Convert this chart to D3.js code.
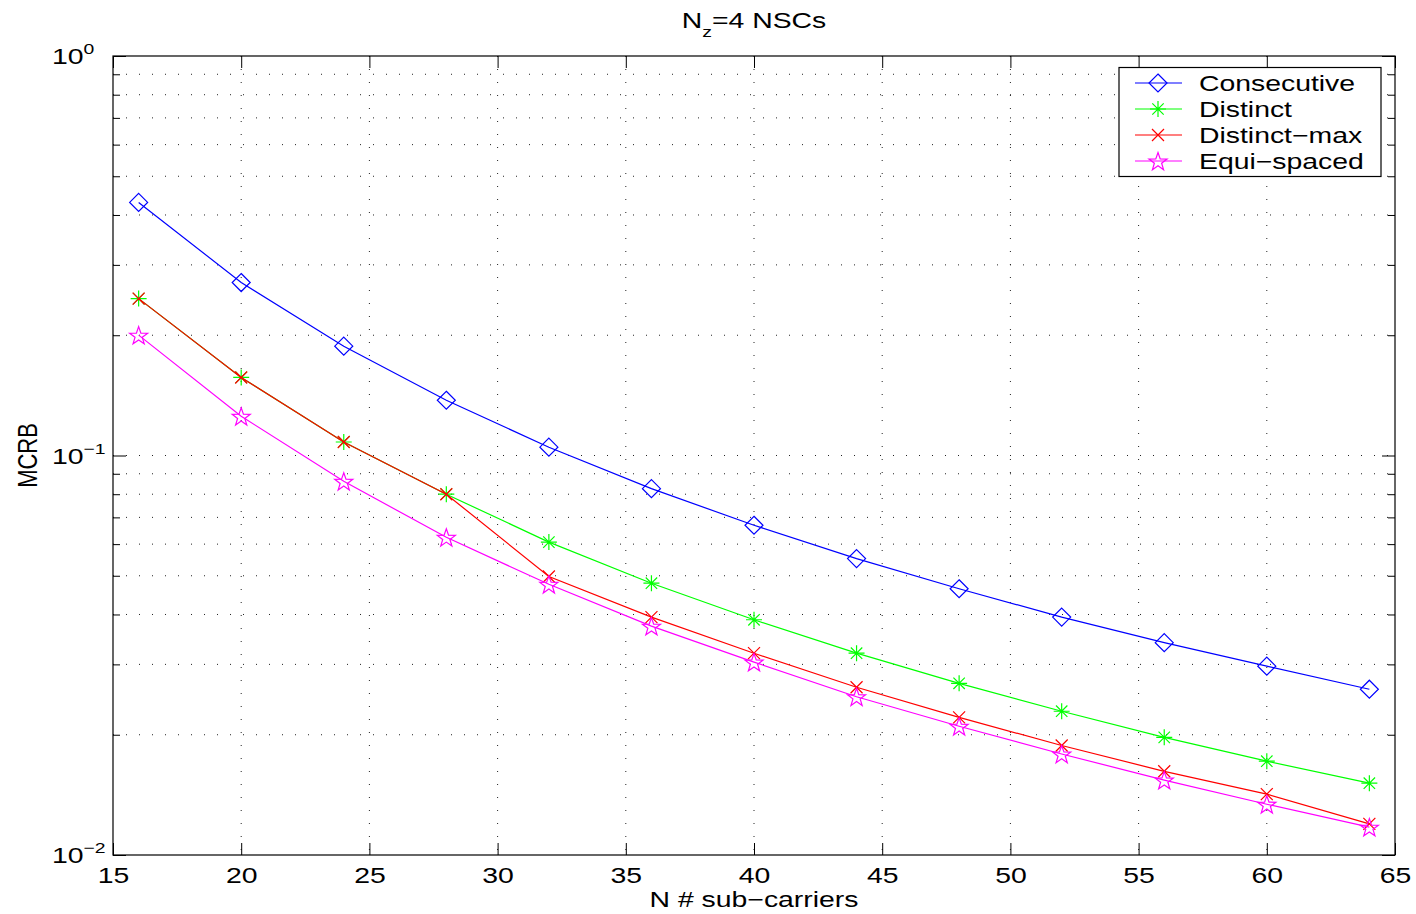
<!DOCTYPE html>
<html>
<head>
<meta charset="utf-8">
<script src="https://cdn.jsdelivr.net/npm/d3@7"></script>
<style>
  html, body { margin: 0; padding: 0; background: #fff; }
  svg { display: block; font-family: "Liberation Sans", Arial, Helvetica, sans-serif; }
</style>
</head>
<body>
<svg id="chart" width="1416" height="914"></svg>
<script>
// ---- data ----
const categories = [16, 20, 24, 28, 32, 36, 40, 44, 48, 52, 56, 60, 64];
const consecutive = [0.430, 0.271, 0.1878, 0.1375, 0.1049, 0.0826, 0.0669, 0.0552, 0.0464, 0.0394, 0.0340, 0.0297, 0.0260];
const distinct    = [0.247, 0.1568, 0.1081, 0.0800, 0.0607, 0.0479, 0.0388, 0.0320, 0.0269, 0.0229, 0.0197, 0.01717, 0.01513];
const distinctMax = [0.247, 0.1568, 0.1081, 0.0800, 0.0498, 0.0394, 0.0320, 0.0263, 0.0221, 0.0188, 0.0162, 0.0142, 0.01197];
const equiSpaced  = [0.2001, 0.1254, 0.0862, 0.0624, 0.0476, 0.0374, 0.0304, 0.0249, 0.0210, 0.0179, 0.0154, 0.0134, 0.01174];
const seriesNames = ["Consecutive", "Distinct", "Distinct\u2212max", "Equi\u2212spaced"];
const seriesColors = ["#0000ff", "#00ff00", "#ff0000", "#ff00ff"];
const seriesMarkers = ["diamond", "asterisk", "cross", "pentagram"];
const xTicks = [15, 20, 25, 30, 35, 40, 45, 50, 55, 60, 65];
const yMajorTicks = [0.01, 0.1, 1];
const yTickExponents = ["\u22122", "\u22121", "0"];
const titleMain = "N", titleSub = "z", titleRest = "=4 NSCs";
const xLabel = "N # sub\u2212carriers";
const yLabel = "MCRB";

// ---- layout ----
const L = 113, R = 1395, T = 56, B = 855;
const FONT = 22;
const SX = 1.29; // horizontal text stretch of the original
const svg = d3.select("#chart");

const x = d3.scaleLinear().domain([15, 65]).range([L, R]);
const y = d3.scaleLog().domain([0.01, 1]).range([B, T]);

const yMinor = [];
[0.01, 0.1].forEach(d => { for (let k = 2; k <= 9; k++) yMinor.push(d * k); });

function stretchedText(parent, tx, ty, anchor, extra) {
  const g = parent.append("g").attr("transform", `translate(${tx},${ty}) ${extra || ""} scale(${SX},1)`);
  return g.append("text").attr("x", 0).attr("y", 0).attr("text-anchor", anchor)
    .attr("font-size", FONT).attr("fill", "#000");
}

// ---- grid ----
const grid = svg.append("g").attr("stroke", "#222").attr("stroke-width", 1)
  .attr("stroke-dasharray", "1,12");
xTicks.filter(v => v > 15 && v < 65).forEach(v => {
  grid.append("line").attr("x1", x(v)).attr("x2", x(v)).attr("y1", T).attr("y2", B);
});
yMinor.concat([0.1]).forEach(v => {
  grid.append("line").attr("x1", L).attr("x2", R).attr("y1", y(v)).attr("y2", y(v));
});

// ---- axes ----
function styleAxis(g) {
  g.select(".domain").remove();
  g.selectAll("line").attr("stroke", "#000").attr("stroke-width", 1);
  g.selectAll("text").attr("fill", "#000").attr("font-size", FONT)
    .attr("font-family", "Liberation Sans, Arial, sans-serif");
}
svg.append("g").attr("transform", `translate(0,${B})`)
  .call(d3.axisBottom(x).tickValues(xTicks).tickSize(-12).tickPadding(12).tickFormat(d3.format("d")))
  .call(styleAxis)
  .call(g => g.selectAll("text").attr("transform", `scale(${SX},1)`));
svg.append("g").attr("transform", `translate(0,${T})`)
  .call(d3.axisTop(x).tickValues(xTicks).tickSize(-12).tickFormat(""))
  .call(styleAxis);
svg.append("g").attr("transform", `translate(${L},0)`)
  .call(d3.axisLeft(y).tickValues(yMajorTicks).tickSize(-13).tickFormat(""))
  .call(styleAxis);
svg.append("g").attr("transform", `translate(${L},0)`)
  .call(d3.axisLeft(y).tickValues(yMinor).tickSize(-7).tickFormat(""))
  .call(styleAxis);
svg.append("g").attr("transform", `translate(${R},0)`)
  .call(d3.axisRight(y).tickValues(yMajorTicks).tickSize(-13).tickFormat(""))
  .call(styleAxis);
svg.append("g").attr("transform", `translate(${R},0)`)
  .call(d3.axisRight(y).tickValues(yMinor).tickSize(-7).tickFormat(""))
  .call(styleAxis);

// y tick labels 10^n
yMajorTicks.forEach((v, i) => {
  const t = stretchedText(svg, 52, y(v) + 8, "start");
  t.append("tspan").text("10");
  t.append("tspan").attr("dy", -10).attr("font-size", 15).text(yTickExponents[i]);
});

// box
svg.append("rect").attr("x", L).attr("y", T).attr("width", R - L).attr("height", B - T)
  .attr("fill", "none").attr("stroke", "#000").attr("stroke-width", 1.2);

// ---- markers ----
function markerPath(type, cx, cy) {
  if (type === "diamond") {
    const r = 9;
    return `M${cx},${cy - r}L${cx + r},${cy}L${cx},${cy + r}L${cx - r},${cy}Z`;
  }
  if (type === "asterisk") {
    const r = 8, d = 5.7;
    return `M${cx - r},${cy}L${cx + r},${cy}M${cx},${cy - r}L${cx},${cy + r}` +
           `M${cx - d},${cy - d}L${cx + d},${cy + d}M${cx - d},${cy + d}L${cx + d},${cy - d}`;
  }
  if (type === "cross") {
    const d = 6;
    return `M${cx - d},${cy - d}L${cx + d},${cy + d}M${cx - d},${cy + d}L${cx + d},${cy - d}`;
  }
  if (type === "pentagram") {
    const ro = 9.5, ri = 3.8;
    let p = "";
    for (let k = 0; k < 10; k++) {
      const a = -Math.PI / 2 + k * Math.PI / 5;
      const rr = k % 2 === 0 ? ro : ri;
      p += (k === 0 ? "M" : "L") + (cx + rr * Math.cos(a)).toFixed(2) + "," + (cy + rr * Math.sin(a) + 1).toFixed(2);
    }
    return p + "Z";
  }
}

// ---- series ----
const allSeries = [consecutive, distinct, distinctMax, equiSpaced];
const line = d3.line().x((d, i) => x(categories[i])).y(d => y(d));
allSeries.forEach((vals, s) => {
  const g = svg.append("g");
  g.append("path").datum(vals).attr("d", line)
    .attr("fill", "none").attr("stroke", seriesColors[s]).attr("stroke-width", 1.2);
  g.selectAll("path.m").data(vals).enter().append("path").attr("class", "m")
    .attr("d", (d, i) => markerPath(seriesMarkers[s], x(categories[i]), y(d)))
    .attr("fill", "none").attr("stroke", seriesColors[s]).attr("stroke-width", 1.2);
});

// ---- legend ----
const lg = svg.append("g");
lg.append("rect").attr("x", 1119).attr("y", 67.5).attr("width", 262).attr("height", 109)
  .attr("fill", "#fff").attr("stroke", "#000").attr("stroke-width", 1.2);
seriesNames.forEach((name, s) => {
  const cy = 83 + s * 26;
  lg.append("line").attr("x1", 1135).attr("x2", 1182).attr("y1", cy).attr("y2", cy)
    .attr("stroke", seriesColors[s]).attr("stroke-width", 1.2);
  lg.append("path").attr("d", markerPath(seriesMarkers[s], 1158, cy))
    .attr("fill", "none").attr("stroke", seriesColors[s]).attr("stroke-width", 1.2);
  stretchedText(lg, 1199, cy + 8, "start").text(name);
});

// ---- title and labels ----
const title = stretchedText(svg, (L + R) / 2, 28, "middle");
title.append("tspan").text(titleMain);
title.append("tspan").attr("dy", 9).attr("font-size", 15).text(titleSub);
title.append("tspan").attr("dy", -9).text(titleRest);

stretchedText(svg, (L + R) / 2, 907, "middle").text(xLabel);

// y label: rotated; the stretch acts on screen x (glyph height direction)
svg.append("g").attr("transform", `translate(37,${(T + B) / 2}) scale(${SX},1) rotate(-90)`)
  .append("text").attr("text-anchor", "middle").attr("font-size", FONT).attr("fill", "#000").text(yLabel);
</script>
</body>
</html>
